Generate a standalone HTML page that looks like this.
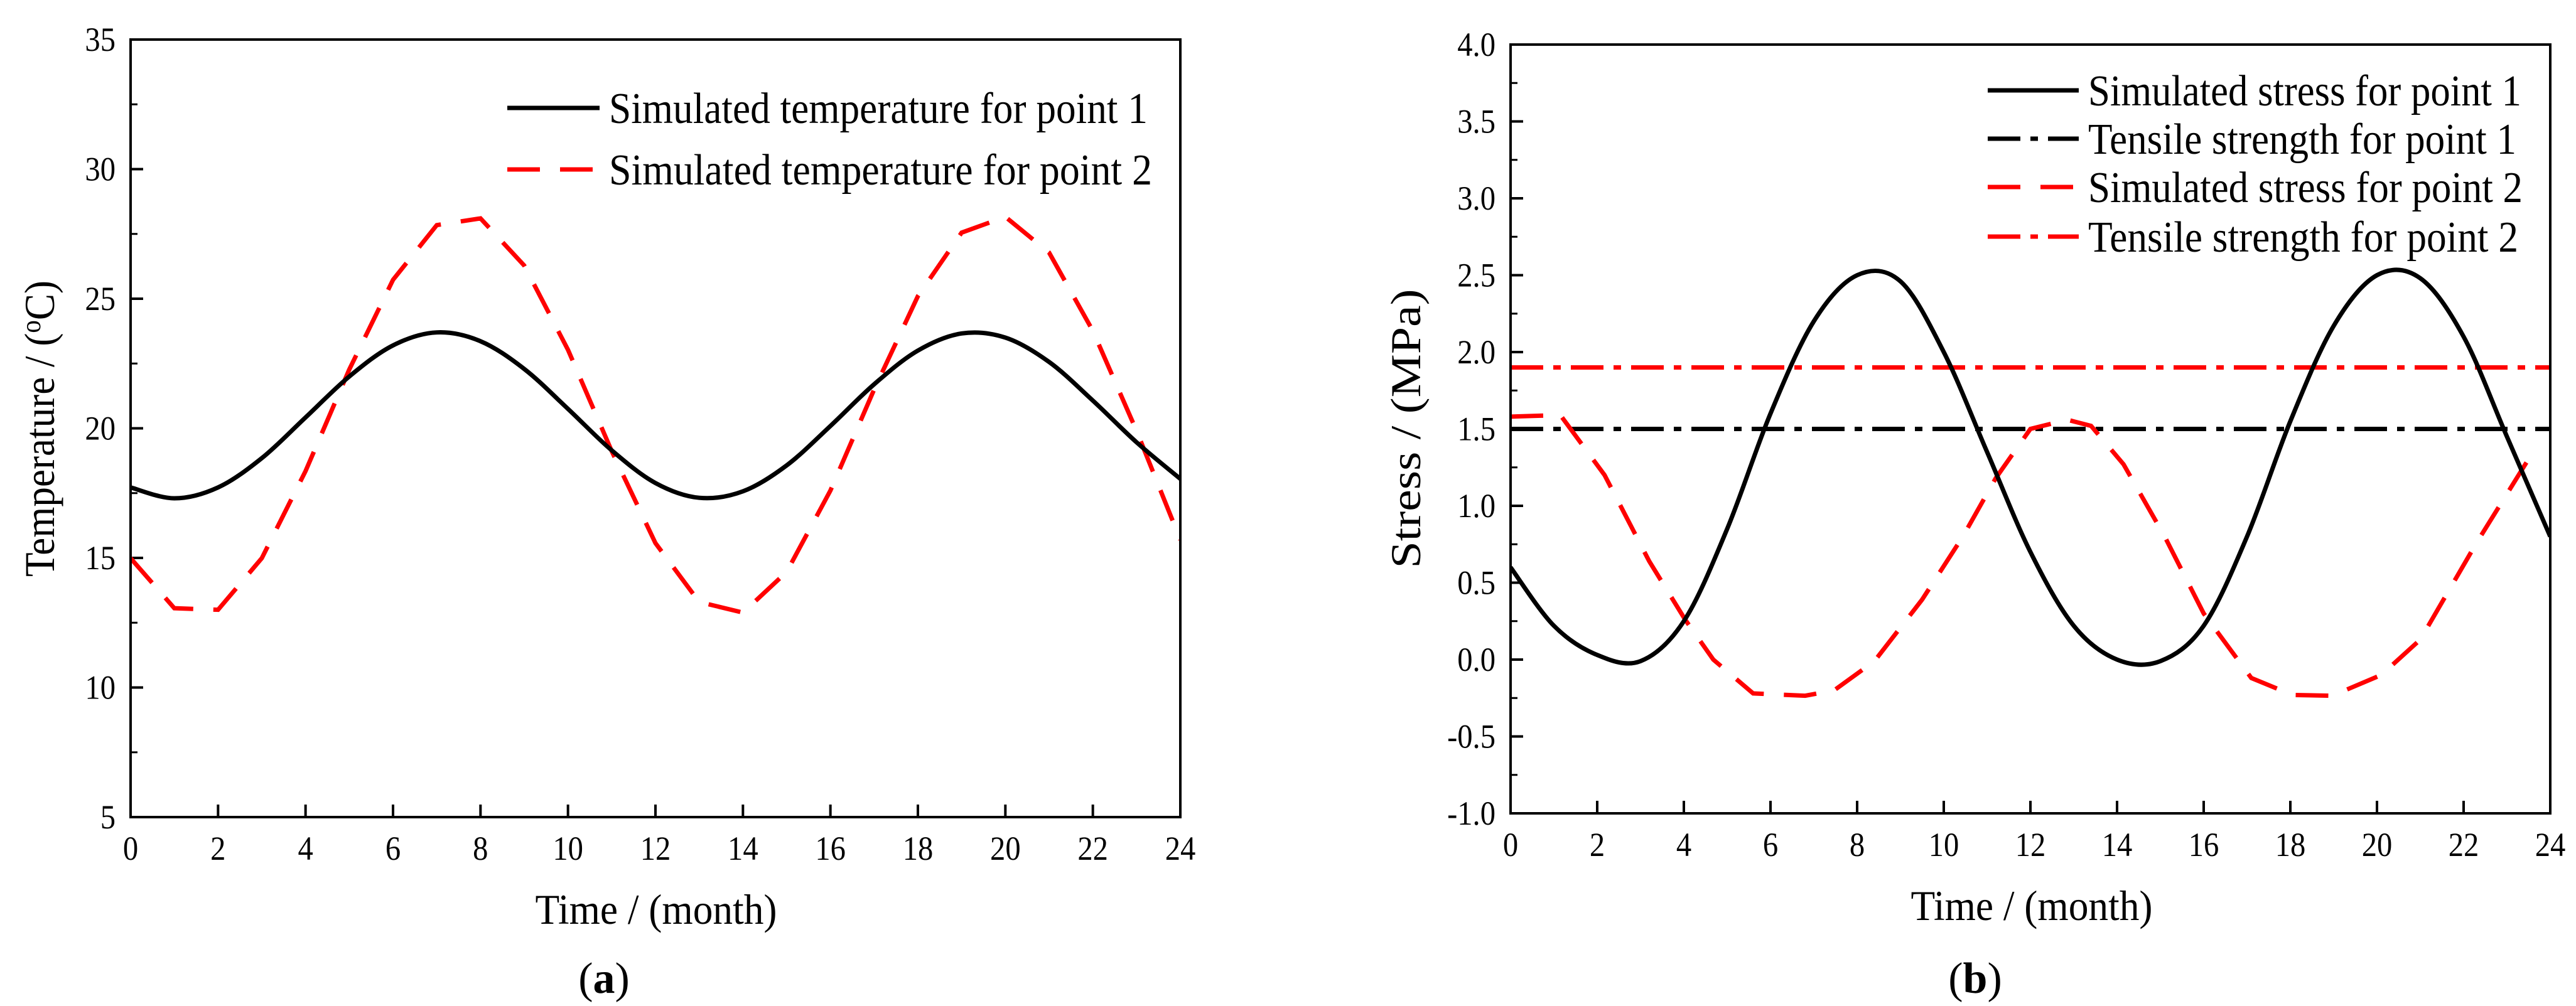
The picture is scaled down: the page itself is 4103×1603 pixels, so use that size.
<!DOCTYPE html>
<html><head><meta charset="utf-8"><style>
html,body{margin:0;padding:0;background:#fff;}
svg{display:block;font-family:"Liberation Serif",serif;}
</style></head><body>
<svg id="fig" width="4103" height="1603" viewBox="0 0 4103 1603" xmlns="http://www.w3.org/2000/svg"></svg>
<script>
// ---- Chart (a) data ----
const aMonths = [0,1,2,3,4,5,6,7,8,9,10,11,12,13,14,15,16,17,18,19,20,21,22,23,24];
const aTemp1 = [17.72,17.30,17.72,18.85,20.42,22.0,23.2,23.7,23.36,22.29,20.75,19.15,17.89,17.32,17.57,18.57,20.09,21.7,23.0,23.66,23.5,22.56,21.07,19.46,18.05];
const aTemp2 = [14.99,13.06,13.0,14.99,18.35,22.27,25.73,27.84,28.1,26.28,23.03,19.12,15.57,13.3,12.89,14.46,17.6,21.5,25.1,27.55,28.16,26.78,23.76,19.9,15.7];
const aXTicks = [0,2,4,6,8,10,12,14,16,18,20,22,24];
const aYTicks = [5,10,15,20,25,30,35];
// ---- Chart (b) data ----
const bStress1X = [0,1,2,3,4,5,6,7,8,9,10,11,12,13,14,15,16,17,18,19,20,21,22,23,24];
const bStress1Y = [0.60,0.22,0.03,-0.01,0.25,0.85,1.6,2.2,2.5,2.46,2.0,1.35,0.7,0.22,0.0,-0.01,0.22,0.8,1.55,2.17,2.5,2.48,2.1,1.45,0.8];
const bStress2X = [0,1.15,2.17,3.2,4.03,4.68,5.6,6.8,7.47,8.4,9.5,10.44,11.2,12.0,12.85,13.4,14.15,15.1,16.0,17.1,18.05,18.97,20.1,21.0,22.3,23.6];
const bStress2Y = [1.58,1.59,1.2,0.64,0.26,0.0,-0.22,-0.235,-0.2,-0.01,0.39,0.8,1.18,1.5,1.56,1.52,1.27,0.8,0.3,-0.12,-0.23,-0.235,-0.1,0.13,0.76,1.35];
const bStrength1 = 1.5;
const bStrength2 = 1.9;
const bXTicks = [0,2,4,6,8,10,12,14,16,18,20,22,24];
const bYTicks = [-1.0,-0.5,0.0,0.5,1.0,1.5,2.0,2.5,3.0,3.5,4.0];

const NS="http://www.w3.org/2000/svg";
const svg=document.getElementById('fig');
function mk(tag,attrs,parent,text){const e=document.createElementNS(NS,tag);for(const k in attrs)e.setAttribute(k,attrs[k]);if(text!==undefined)e.textContent=text;(parent||svg).appendChild(e);return e;}
function smooth(pts){let d='M'+pts[0][0]+','+pts[0][1];for(let i=0;i<pts.length-1;i++){const p0=pts[Math.max(0,i-1)],p1=pts[i],p2=pts[i+1],p3=pts[Math.min(pts.length-1,i+2)];const c1x=p1[0]+(p2[0]-p0[0])/6,c1y=p1[1]+(p2[1]-p0[1])/6,c2x=p2[0]-(p3[0]-p1[0])/6,c2y=p2[1]-(p3[1]-p1[1])/6;d+=' C'+c1x+','+c1y+' '+c2x+','+c2y+' '+p2[0]+','+p2[1];}return d;}

function axes(g,L,R,T,B,xmin,xmax,ymin,ymax,xt,yt,yfmt,minorStep){
  const sx=v=>L+(v-xmin)/(xmax-xmin)*(R-L), sy=v=>B-(v-ymin)/(ymax-ymin)*(B-T);
  xt.forEach(v=>{const t=mk('line',{x1:sx(v),x2:sx(v),y1:B,y2:B-20,stroke:'#000','stroke-width':4},g);
    
    const l=mk('text',{x:sx(v),y:B+68,'font-size':54,'text-anchor':'middle',transform:'translate('+sx(v)+','+(B+68)+') scale(0.9,1) translate('+(-sx(v))+','+(-(B+68))+')'},g,String(v));
    });
  yt.forEach(v=>{const t=mk('line',{x1:L,x2:L+20,y1:sy(v),y2:sy(v),stroke:'#000','stroke-width':4},g);
    
    const x=L-24,y=sy(v)+18;
    const l=mk('text',{x:x,y:y,'font-size':54,'text-anchor':'end',transform:'translate('+x+','+y+') scale(0.9,1) translate('+(-x)+','+(-y)+')'},g,yfmt(v));
    });
  for(let v=ymin+minorStep;v<ymax;v+=minorStep*2){const t=mk('line',{x1:L,x2:L+11,y1:sy(v),y2:sy(v),stroke:'#000','stroke-width':3},g);
    }
  return {sx,sy};
}
function frame(g,L,R,T,B){const f=mk('rect',{x:L,y:T,width:R-L,height:B-T,fill:'none',stroke:'#000','stroke-width':4},g);
  }

// ===== Chart (a) =====
const ga=mk('g',{});
const aL=208,aR=1880,aT=63,aB=1302;
const A=axes(ga,aL,aR,aT,aB,0,24,5,35,aXTicks,aYTicks,v=>String(v),2.5);
const clipA=mk('clipPath',{id:'ca'},ga);mk('rect',{x:aL,y:aT,width:aR-aL,height:aB-aT},clipA);
mk('path',{d:aMonths.map((m,i)=>(i?'L':'M')+A.sx(m)+','+A.sy(aTemp2[i])).join(' '),fill:'none',stroke:'#ff0000','stroke-width':7,'stroke-dasharray':'52 32','clip-path':'url(#ca)',},ga);
mk('path',{d:smooth(aMonths.map((m,i)=>[A.sx(m),A.sy(aTemp1[i])])),fill:'none',stroke:'#000','stroke-width':7,'clip-path':'url(#ca)',},ga);
frame(ga,aL,aR,aT,aB);
const lga=mk('g',{},ga);
mk('line',{x1:808,x2:955,y1:172,y2:172,stroke:'#000','stroke-width':7,},lga);
mk('text',{x:970,y:196,'font-size':70,textLength:858,lengthAdjust:'spacingAndGlyphs',},lga,'Simulated temperature for point 1');
mk('line',{x1:808,x2:955,y1:270,y2:270,stroke:'#ff0000','stroke-width':7,'stroke-dasharray':'52 32',},lga);
mk('text',{x:970,y:294,'font-size':70,textLength:865,lengthAdjust:'spacingAndGlyphs',},lga,'Simulated temperature for point 2');
mk('text',{x:1045,y:1472,'font-size':68,'text-anchor':'middle',textLength:385,lengthAdjust:'spacingAndGlyphs',},ga,'Time / (month)');
const ya=mk('text',{x:0,y:0,'font-size':68,'text-anchor':'middle',textLength:472,lengthAdjust:'spacingAndGlyphs',transform:'translate(86,683) rotate(-90)',},ga);
ya.innerHTML='Temperature / (<tspan font-size="44" dy="-22">o</tspan><tspan dy="22">C)</tspan>';
const capA=mk('text',{x:962,y:1582,'font-size':70,'text-anchor':'middle',},ga);
capA.innerHTML='(<tspan font-weight="bold">a</tspan>)';

// ===== Chart (b) =====
const gb=mk('g',{});
const bL=2406,bR=4062,bT=71,bB=1296;
const Bx=axes(gb,bL,bR,bT,bB,0,24,-1,4,bXTicks,bYTicks,v=>v.toFixed(1),0.25);
const clipB=mk('clipPath',{id:'cb'},gb);mk('rect',{x:bL,y:bT,width:bR-bL,height:bB-bT},clipB);
mk('line',{x1:Bx.sx(0),x2:Bx.sx(24),y1:Bx.sy(bStrength2),y2:Bx.sy(bStrength2),stroke:'#ff0000','stroke-width':7,'stroke-dasharray':'52 16 12 16',},gb);
mk('line',{x1:Bx.sx(0),x2:Bx.sx(24),y1:Bx.sy(bStrength1),y2:Bx.sy(bStrength1),stroke:'#000','stroke-width':7,'stroke-dasharray':'52 16 12 16',},gb);
mk('path',{d:bStress2X.map((m,i)=>(i?'L':'M')+Bx.sx(m)+','+Bx.sy(bStress2Y[i])).join(' '),fill:'none',stroke:'#ff0000','stroke-width':7,'stroke-dasharray':'52 32','clip-path':'url(#cb)',},gb);
mk('path',{d:smooth(bStress1X.map((m,i)=>[Bx.sx(m),Bx.sy(bStress1Y[i])])),fill:'none',stroke:'#000','stroke-width':7,'clip-path':'url(#cb)',},gb);
frame(gb,bL,bR,bT,bB);
const lgb=mk('g',{},gb);
const legB=[['Simulated stress for point 1','#000','none',690],['Tensile strength for point 1','#000','52 16 12 16',682],['Simulated stress for point 2','#ff0000','52 32',692],['Tensile strength for point 2','#ff0000','52 16 12 16',685]];
const legBy=[144,221,298,377];
legB.forEach((e,i)=>{
  const s=mk('line',{x1:3166,x2:3311,y1:legBy[i],y2:legBy[i],stroke:e[1],'stroke-width':7,'stroke-dasharray':e[2]},lgb);
  
  const t=mk('text',{x:3326,y:legBy[i]+24,'font-size':70,textLength:e[3],lengthAdjust:'spacingAndGlyphs'},lgb,e[0]);
  
});
mk('text',{x:3236,y:1466,'font-size':68,'text-anchor':'middle',textLength:385,lengthAdjust:'spacingAndGlyphs',},gb,'Time / (month)');
mk('text',{x:0,y:0,'font-size':68,'text-anchor':'middle',textLength:445,lengthAdjust:'spacingAndGlyphs',transform:'translate(2262,683) rotate(-90)',},gb,'Stress / (MPa)');
const capB=mk('text',{x:3146,y:1582,'font-size':70,'text-anchor':'middle',},gb);
capB.innerHTML='(<tspan font-weight="bold">b</tspan>)';
</script>
</body></html>
